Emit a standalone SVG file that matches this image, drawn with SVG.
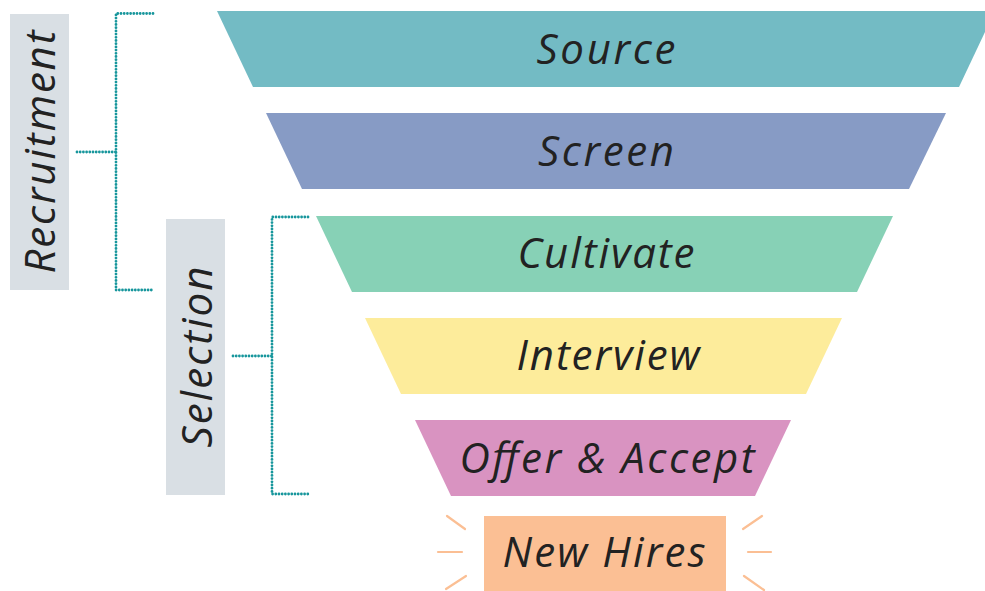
<svg xmlns="http://www.w3.org/2000/svg" width="985" height="591" viewBox="0 0 985 591">
  <style>
    .lbl { font-family: "Open Sans", Lato, sans-serif; font-style: italic; font-weight: 400; font-size: 42px; fill: #222222; text-anchor: middle; }
    .tag { fill: #d9dfe4; }
    .dots { fill: none; stroke: #17969c; stroke-width: 2.8; stroke-linecap: round; stroke-dasharray: 0 3.2; }
    .ray { stroke: #fbbf94; stroke-width: 2.2; stroke-linecap: round; }
  </style>

  <!-- Group labels -->
  <g id="recruitment">
    <rect class="tag" x="10" y="14" width="59" height="276"/>
    <text class="lbl" transform="translate(55,152) rotate(-90)" x="0" y="0" textLength="243" lengthAdjust="spacing">Recruitment</text>
  </g>
  <g id="selection">
    <rect class="tag" x="166" y="219" width="59" height="276"/>
    <text class="lbl" transform="translate(212,357) rotate(-90)" x="0" y="0" textLength="181" lengthAdjust="spacing">Selection</text>
  </g>

  <!-- Brackets -->
  <g id="connectors">
    <path class="dots" d="M153,13.5 H116 V290 H153"/>
    <path class="dots" d="M77,152 H116"/>
    <path class="dots" d="M308,217 H272 V494 H308"/>
    <path class="dots" d="M233,356 H272"/>
  </g>

  <!-- Funnel stages -->
  <g id="source">
    <polygon points="217,11 995,11 959,87 253,87" fill="#73bbc4"/>
    <text class="lbl" x="606" y="64" textLength="139" lengthAdjust="spacing">Source</text>
  </g>
  <g id="screen">
    <polygon points="266,113 946,113 909,189 302,189" fill="#879bc5"/>
    <text class="lbl" x="606" y="166" textLength="136" lengthAdjust="spacing">Screen</text>
  </g>
  <g id="cultivate">
    <polygon points="316,216 893,216 857,292 352,292" fill="#87d1b6"/>
    <text class="lbl" x="606" y="268" textLength="177" lengthAdjust="spacing">Cultivate</text>
  </g>
  <g id="interview">
    <polygon points="365,318 842,318 806,394 401,394" fill="#fdec9b"/>
    <text class="lbl" x="608" y="370" textLength="183" lengthAdjust="spacing">Interview</text>
  </g>
  <g id="offer-accept">
    <polygon points="415,420 791,420 755,496 451,496" fill="#d993c1"/>
    <text class="lbl" x="607" y="473" textLength="295" lengthAdjust="spacing">Offer &amp; Accept</text>
  </g>
  <g id="new-hires">
    <rect x="484" y="516" width="242" height="75" fill="#fbbf94"/>
    <text class="lbl" x="604" y="567" textLength="203" lengthAdjust="spacing">New Hires</text>
    <line class="ray" x1="447" y1="516" x2="465" y2="529"/>
    <line class="ray" x1="438" y1="552" x2="462" y2="552"/>
    <line class="ray" x1="446" y1="589" x2="466" y2="576"/>
    <line class="ray" x1="762" y1="516" x2="743" y2="529"/>
    <line class="ray" x1="748" y1="552" x2="771" y2="552"/>
    <line class="ray" x1="744" y1="576" x2="764" y2="590"/>
  </g>
</svg>
